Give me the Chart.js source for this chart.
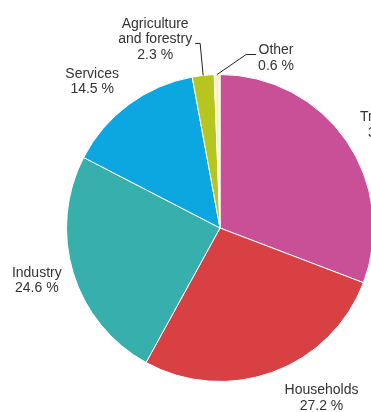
<!DOCTYPE html>
<html>
<head>
<meta charset="utf-8">
<script src="https://cdn.jsdelivr.net/npm/chart.js@4/dist/chart.umd.min.js"></script>
<style>
  html, body { margin: 0; padding: 0; background: #fff; overflow: hidden; }
  #wrap { width: 380px; height: 412px; }
</style>
</head>
<body>
<div id="wrap"><canvas id="chart" width="380" height="412"></canvas></div>
<script>
const categories = ['Transport', 'Households', 'Industry', 'Services', 'Agriculture and forestry', 'Other'];
const shares = [30.8, 27.2, 24.6, 14.5, 2.3, 0.6];
const colors = ['#c94f97', '#d94044', '#37b0ad', '#0ca6e0', '#b6c520', '#f7f2c6'];

// where each label block goes, relative to the slice's outer edge
const labelLayout = [
    { dist: 19, align: 'left', dx: -2, dy: -5 },
    { dist: 28, align: 'left', dx: 2, dy: 0 },
    { dist: 38, align: 'center', dx: 0, dy: -3 },
    { dist: 36, align: 'center', dx: -15, dy: 6 },
    { leader: [-3, -32, -5], align: 'right' },
    { leader: [29, -20, 10], align: 'left' }
];

const splitName = name => {
    if (name.length > 12 && name.indexOf(' ') > 0) {
        let i = name.indexOf(' ');
        return [name.slice(0, i), name.slice(i + 1)];
    }
    return [name];
}

const pieLabels = {
    id: 'pieLabels',
    afterDraw(chart) {
        const ctx = chart.ctx;
        const meta = chart.getDatasetMeta(0);
        const lineH = 15.5;
        ctx.save();
        ctx.font = '14px "Liberation Sans", Arial, sans-serif';
        ctx.fillStyle = '#333';
        ctx.strokeStyle = '#222';
        ctx.lineWidth = 1;
        ctx.textBaseline = 'middle';
        ctx.textAlign = 'center';

        meta.data.forEach((arc, i) => {
            const p = arc.getProps(['x', 'y', 'startAngle', 'endAngle', 'outerRadius'], true);
            const mid = (p.startAngle + p.endAngle) / 2;
            const lines = splitName(categories[i]).concat([shares[i].toFixed(1) + ' %']);
            const w = Math.max(...lines.map(l => ctx.measureText(l).width));
            const lay = labelLayout[i];
            let cx, cy;

            if (lay.leader) {
                const ex = p.x + Math.cos(mid) * p.outerRadius;
                const ey = p.y + Math.sin(mid) * p.outerRadius;
                const bx = ex + lay.leader[0];
                const by = ey + lay.leader[1];
                const tx = bx + lay.leader[2];
                ctx.beginPath();
                ctx.moveTo(ex, ey);
                ctx.lineTo(bx, by);
                ctx.lineTo(tx, by);
                ctx.stroke();
                cx = lay.align === 'right' ? tx - 3 - w / 2 : tx + 2 + w / 2;
                // the line points at the second to last text line
                cy = by - 4 - (lines.length - 2) * lineH + (lines.length - 1) * lineH / 2;
            } else {
                const r = p.outerRadius + lay.dist;
                const ax = p.x + Math.cos(mid) * r + lay.dx;
                const ay = p.y + Math.sin(mid) * r + lay.dy;
                cx = lay.align === 'left' ? ax + w / 2 : ax;
                cy = ay;
            }

            lines.forEach((l, k) => {
                ctx.fillText(l, cx, cy + (k - (lines.length - 1) / 2) * lineH);
            });
        });
        ctx.restore();
    }
};

new Chart(document.getElementById('chart').getContext('2d'), {
    type: 'pie',
    data: {
        labels: categories,
        datasets: [{
            data: shares,
            backgroundColor: colors,
            borderColor: '#ffffff',
            borderWidth: 1
        }]
    },
    options: {
        responsive: false,
        animation: false,
        devicePixelRatio: 1,
        layout: { padding: { left: 66, right: 6, top: 74, bottom: 30 } },
        plugins: {
            legend: { display: false },
            tooltip: { enabled: false }
        }
    },
    plugins: [pieLabels]
});
</script>
</body>
</html>
